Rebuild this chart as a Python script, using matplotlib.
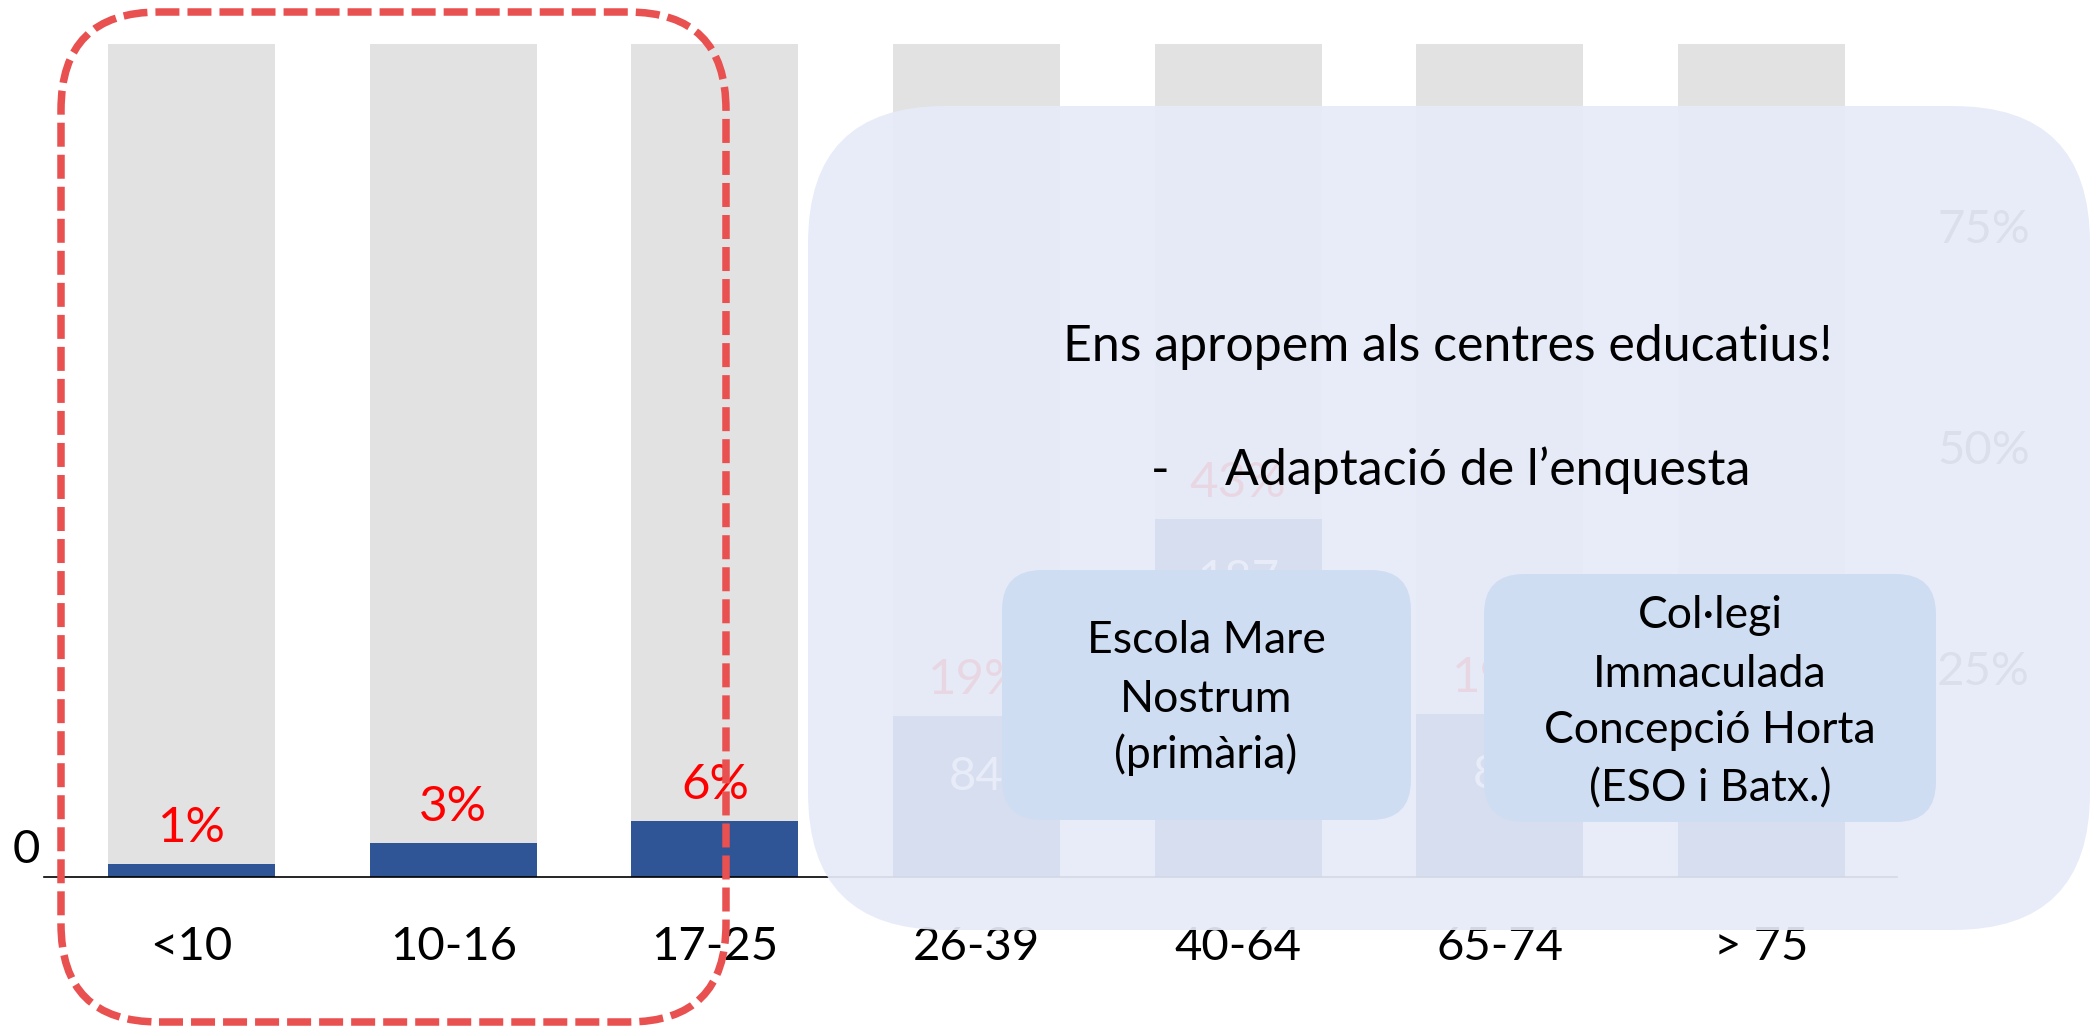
import matplotlib
matplotlib.use("Agg")
import matplotlib.pyplot as plt
from matplotlib.patches import FancyBboxPatch
import matplotlib.transforms as mtransforms

# ---------------- data ----------------
categories = ["<10", "10-16", "17-25", "26-39", "40-64", "65-74", "> 75"]
counts = [7, 18, 29, 84, 187, 85, 75]
pct_labels = ["1%", "3%", "6%", "19%", "43%", "19%", "17%"]
show_count = [False, False, False, True, True, True, True]
total_responses = 435
pct_ticks = [0.25, 0.50, 0.75]
pct_tick_labels = ["25%", "50%", "75%"]
title_text = "Ens apropem als centres educatius!"
bullet_text = "Adaptació de l’enquesta"
school_1 = ["Escola Mare", "Nostrum", "(primària)"]
school_2 = ["Col·legi", "Immaculada", "Concepció Horta", "(ESO i Batx.)"]

# ---------------- figure ----------------
W, H = 2093, 1028
plt.rcParams['font.family'] = ['Lato', 'DejaVu Sans']
fig = plt.figure(figsize=(W / 100, H / 100), dpi=100)
fig.patch.set_facecolor("white")
PT = 0.72  # points per pixel at 100 dpi


def fx(px):
    return px / W


def fy(py):
    return 1 - py / H


ax = fig.add_axes([fx(44), fy(877), (1897 - 44) / W, (877 - 44) / H])
ax.set_facecolor("none")
x = list(range(len(categories)))
ax.bar(x, [total_responses] * len(x), width=0.638, color="#E2E2E2", zorder=1)
ax.bar(x, counts, width=0.638, color="#2F5597", zorder=2)
ax.set_xlim(-0.5637, 6.518)
ax.set_ylim(0, total_responses)
for s in ["top", "right", "left"]:
    ax.spines[s].set_visible(False)
ax.spines["bottom"].set_color("black")
ax.spines["bottom"].set_linewidth(1.2)
ax.spines["bottom"].set_zorder(3)
ax.set_xticks([])
ax.set_yticks([])

trans = mtransforms.blended_transform_factory(ax.transData, fig.transFigure)
for i, cat in enumerate(categories):
    ax.text(i, fy(960), cat, transform=trans, ha="center", va="baseline",
            fontsize=34, color="black", clip_on=False)

ax.annotate("0", xy=(0, 0), xycoords=ax.get_yaxis_transform(),
            xytext=(-4 * PT, 14 * PT), textcoords="offset points",
            ha="right", va="baseline", fontsize=34, color="black")

for i, (c, p) in enumerate(zip(counts, pct_labels)):
    ax.annotate(p, xy=(i, c), xytext=(0, 22 * PT), textcoords="offset points",
                ha="center", va="baseline", color="#FF0000", fontsize=35.5, zorder=4)
    if show_count[i]:
        ax.annotate(str(c), xy=(i, c), xytext=(0, -74 * PT), textcoords="offset points",
                    ha="center", va="baseline", color="white", fontsize=34, zorder=4)

ax2 = ax.twinx()
ax2.set_ylim(0.0136, 0.956)
ax2.set_yticks(pct_ticks, pct_tick_labels)
ax2.tick_params(axis="y", length=0, pad=40 * PT, labelsize=34, labelcolor="#595959")
for s in ax2.spines.values():
    s.set_visible(False)
ax2.xaxis.set_visible(False)


def rbox(x0, y0, x1, y1, r, **kw):
    return FancyBboxPatch((x0 / 100, (H - y1) / 100), (x1 - x0) / 100, (y1 - y0) / 100,
                          boxstyle=f"round,pad=0,rounding_size={r / 100}",
                          transform=fig.dpi_scale_trans, **kw)


# translucent overlay
fig.add_artist(rbox(808, 106, 2090, 930, 137, facecolor="#E6EBF8", edgecolor="none",
                    alpha=0.92, zorder=5))

fig.text(fx(1448), fy(361), title_text, ha="center", va="baseline", fontsize=36,
         color="black", zorder=6)
fig.text(fx(1160), fy(485), "-", ha="center", va="baseline", fontsize=36,
         color="black", zorder=6)
fig.text(fx(1225), fy(485), bullet_text, ha="left", va="baseline", fontsize=36,
         color="black", zorder=6)

# school boxes
fig.add_artist(rbox(1002, 570, 1411, 820, 40, facecolor="#CFDDF3", edgecolor="none", zorder=7))
fig.add_artist(rbox(1484, 574, 1936, 822, 40, facecolor="#CFDDF3", edgecolor="none", zorder=7))
for line, yb in zip(school_1, [653, 712, 768]):
    fig.text(fx(1206), fy(yb), line, ha="center", va="baseline", fontsize=32,
             color="black", zorder=8)
for line, yb in zip(school_2, [628, 687, 743, 801]):
    fig.text(fx(1710), fy(yb), line, ha="center", va="baseline", fontsize=32,
             color="black", zorder=8)

# dashed red highlight
fig.add_artist(rbox(61, 12, 726, 1022, 98, facecolor="none", edgecolor="#E95050",
                    linewidth=5.4, linestyle=(0, (3.2, 1.07)), zorder=9))

fig.savefig("out.png", dpi=100)
